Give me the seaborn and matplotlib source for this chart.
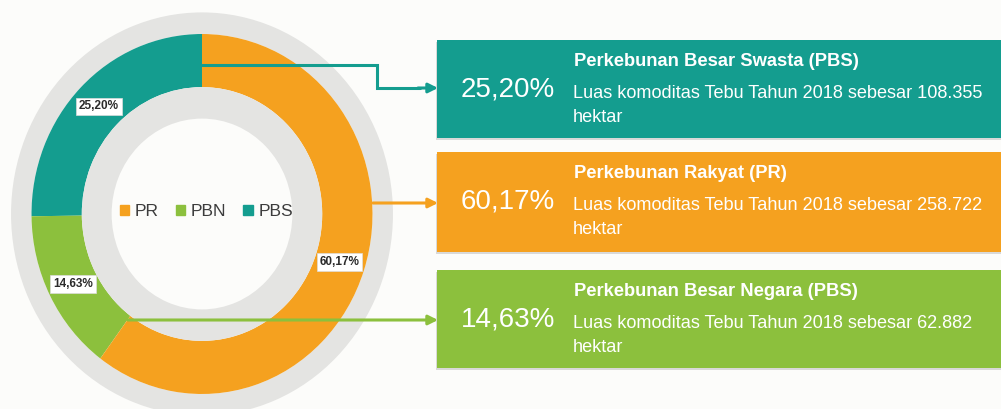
import matplotlib
matplotlib.use("Agg")
import matplotlib.pyplot as plt
import seaborn as sns
from matplotlib.patches import Patch, Rectangle

# Data
segments = ["PBS", "PBN", "PR"]            # pie order, counterclockwise from top
shares = [25.20, 14.63, 60.17]
seg_colors = ["#149d8f", "#8cc03d", "#f5a11f"]
legend_order = ["PR", "PBN", "PBS"]

box_keys = ["PBS", "PR", "PBN"]
box_titles = ["Perkebunan Besar Swasta (PBS)",
              "Perkebunan Rakyat (PR)",
              "Perkebunan Besar Negara (PBS)"]
box_pcts = ["25,20%", "60,17%", "14,63%"]
box_areas = ["108.355", "258.722", "62.882"]

sns.set_theme(style="white")
plt.rcParams["font.family"] = ["Liberation Sans", "DejaVu Sans"]

W, H = 1001, 409
bg = "#fcfcfa"
grey = "#e4e4e2"
color_of = dict(zip(segments, seg_colors))

fig = plt.figure(figsize=(W / 100, H / 100), dpi=100, facecolor=bg)

# -------------------- DONUT --------------------
cx, cy = 202, 214        # centre in pixels (from top)
rx, ry = 170.5, 180      # outer radius of coloured ring in pixels
lim = 1.25
ax = fig.add_axes([(cx - lim * rx) / W, (H - cy - lim * ry) / H,
                   2 * lim * rx / W, 2 * lim * ry / H])

ax.pie([1], radius=1.12, colors=[grey], wedgeprops=dict(width=0.12, edgecolor="none"))


def fmt(p):
    return f"{p:.2f}%".replace(".", ",")


wedges, _, autotexts = ax.pie(
    shares, radius=1.0, startangle=90, counterclock=True, colors=seg_colors,
    wedgeprops=dict(width=0.295, edgecolor="none"),
    autopct=fmt, pctdistance=0.85)
for t in autotexts:
    t.set_fontsize(8.5)
    t.set_fontweight("bold")
    t.set_color("#2b2b2b")
    t.set_bbox(dict(boxstyle="square,pad=0.25", fc="white", ec="#dcdcdc", lw=0.5))

ax.pie([1], radius=0.705, colors=[grey], wedgeprops=dict(width=0.175, edgecolor="none"))

ax.set_aspect("auto")
ax.set_xlim(-lim, lim)
ax.set_ylim(-lim, lim)
ax.axis("off")

handles = [Patch(color=color_of[k]) for k in legend_order]
leg = ax.legend(handles, legend_order, loc="center", bbox_to_anchor=(0.51, 0.505),
                ncol=3, frameon=False, fontsize=12.5, handlelength=0.55,
                handleheight=0.55, handletextpad=0.3, columnspacing=1.0)
for t in leg.get_texts():
    t.set_color("#3c3c3c")

# -------------------- BOXES AND CONNECTORS --------------------
ov = fig.add_axes([0, 0, 1, 1])
ov.set_xlim(0, W)
ov.set_ylim(H, 0)
ov.axis("off")

box_left = 437
box_tops = [40, 152, 270]
box_h = [98, 100, 98]

for i, key in enumerate(box_keys):
    c = color_of[key]
    top = box_tops[i]
    h = box_h[i]
    ov.add_patch(Rectangle((box_left - 1, top + 2), W, h, fc="#b0b0b0", ec="none", alpha=0.45))
    ov.add_patch(Rectangle((box_left, top), W, h, fc=c, ec="none"))
    ov.text(508, top + 49, box_pcts[i], color="white", fontsize=20,
            ha="center", va="center")
    ov.text(574, top + 22, box_titles[i], color="white", fontsize=13.2,
            fontweight="bold", ha="left", va="center")
    ov.text(573, top + 53, f"Luas komoditas Tebu Tahun 2018 sebesar {box_areas[i]}",
            color="white", fontsize=13.1, ha="left", va="center")
    ov.text(573, top + 77, "hektar", color="white", fontsize=13.1, ha="left", va="center")

arrow = dict(arrowstyle="-|>", lw=2.2, mutation_scale=14, shrinkA=0, shrinkB=0)

# PBS connector (elbow)
ov.plot([cx, 377, 377, 420], [65, 65, 88, 88], color=color_of["PBS"], lw=2.2,
        solid_joinstyle="miter")
ov.annotate("", xy=(438, 88), xytext=(418, 88),
            arrowprops=dict(arrow, color=color_of["PBS"]))
# PR connector
ov.annotate("", xy=(438, 203), xytext=(373, 203),
            arrowprops=dict(arrow, color=color_of["PR"]))
# PBN connector
ov.annotate("", xy=(438, 320), xytext=(128, 320),
            arrowprops=dict(arrow, color=color_of["PBN"]))

fig.savefig("out.png", dpi=100, facecolor=bg)
